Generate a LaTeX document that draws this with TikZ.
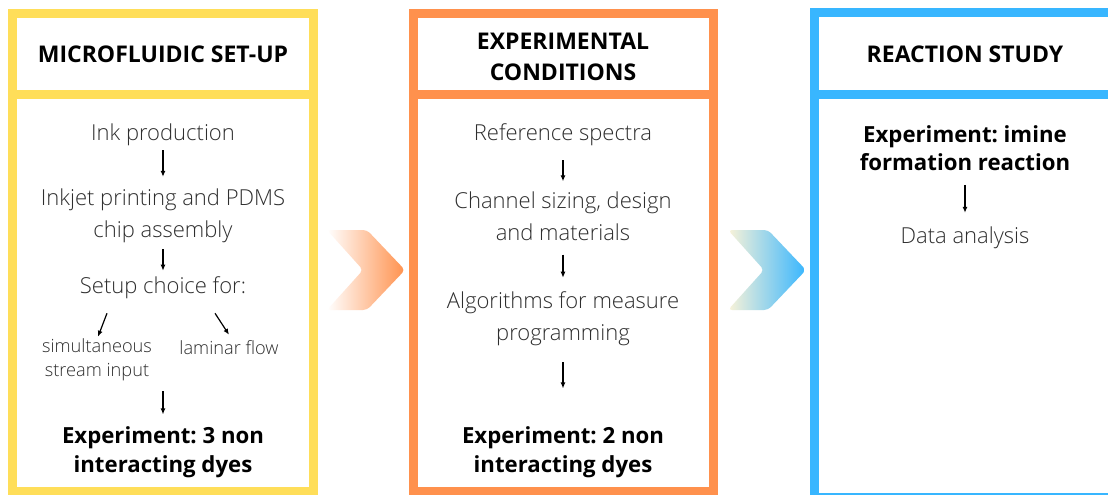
\documentclass[tikz,border=0pt]{standalone}
\usepackage{fontspec}
\setmainfont{Open Sans}
\newfontfamily\lightfont{Open Sans Light}
\usetikzlibrary{arrows.meta,calc}
\definecolor{cyellow}{HTML}{FFDE59}
\definecolor{corange}{HTML}{FF914D}
\definecolor{cblue}{HTML}{38B6FF}
\definecolor{ink}{HTML}{2E2E2E}
\definecolor{cream}{HTML}{FAF3D8}
\frenchspacing
\begin{document}
\begin{tikzpicture}[x=1pt,y=-1pt,
  frame/.style={line width=9pt},
  title/.style={font=\bfseries\fontsize{23}{31}\selectfont, align=center, text=black},
  body/.style={font=\lightfont\fontsize{22}{32}\selectfont, align=center, text=ink, inner sep=0pt},
  small/.style={font=\lightfont\fontsize{18.2}{24}\selectfont, align=center, text=ink, inner sep=0pt},
  strong/.style={font=\bfseries\fontsize{22.2}{28.5}\selectfont, align=center, text=black, inner sep=0pt},
  arr/.style={-{Latex[length=6pt,width=5pt]}, line width=1.2pt, black},
  chev/.style={rounded corners=4pt}]
\useasboundingbox (0,0) rectangle (1108,495);
\fill[white] (0,0) rectangle (1108,495);

% panel frames; the third one runs past the right edge
\draw[frame,cyellow] (12.5,13.5) rectangle (313.5,491.5);
\draw[frame,cyellow] (8,94.5) -- (318,94.5);
\draw[frame,corange] (413.5,13.5) rectangle (713.5,491.5);
\draw[frame,corange] (409,94.5) -- (718,94.5);
\fill[cblue] (810,8.5) rectangle (1108,17.5);
\fill[cblue] (810,90) rectangle (1108,99);
\fill[cblue] (810,492.5) rectangle (1108,495);
\fill[cblue] (810,8.5) rectangle (819,495);
% white interior of the third panel up to the edge
\fill[white] (819,17.5) rectangle (1108,90);
\fill[white] (819,99) rectangle (1108,492.5);

% chevrons between panels
\shade[chev, left color=white, right color=corange]
  (327,230) -- (367,230) -- (405,270) -- (367,310) -- (327,310) -- (363,270) -- cycle;
\shade[chev, left color=cream, right color=cblue]
  (728,230) -- (768,230) -- (806,270) -- (768,310) -- (728,310) -- (764,270) -- cycle;

% headers
\node[title] (t1) at (163,54) {MICROFLUIDIC SET-UP};
\node[title] (t2) at (563,57) {EXPERIMENTAL\\CONDITIONS};
\node[title] (t3) at (965,54) {REACTION STUDY};

% first column
\node[body] (ink) at (163,135) {Ink production};
\node[body] (jet) at (163,216) {Inkjet printing and PDMS\\chip assembly};
\node[body] (setup) at (163,288) {Setup choice for:};
\node[small] (simul) at (97,360) {simultaneous\\stream input};
\node[small] (lam) at (229,348) {laminar flow};
\node[strong] (exp1) at (163,452) {Experiment: 3 non\\interacting dyes};
\draw[arr, shorten <=4pt, shorten >=12pt] (ink.south) -- (jet.north);
\draw[arr] ($(setup.south)+(-56,14)$) -- ($(simul.north)+(1,-2)$);
\draw[arr] ($(setup.south)+(52,14)$) -- ($(lam.north)+(0,-6)$);

% second column
\node[body] (ref) at (563,135) {Reference spectra};
\node[body] (chan) at (563,216) {Channel sizing, design\\and materials};
\node[body] (algo) at (563,319) {Algorithms for measure\\programming};
\node[strong] (exp2) at (563,452) {Experiment: 2 non\\interacting dyes};

% third column
\node[strong] (exp3) at (965,148) {Experiment: imine\\formation reaction};
\node[body] (data) at (965,238) {Data analysis};

% vertical connectors
\draw[arr, shorten <=6pt, shorten >=6pt] (jet.south) -- (setup.north);
\draw[arr, shorten <=10pt, shorten >=12pt] (exp1.north |- simul.south) -- (exp1.north);
\draw[arr, shorten <=14pt, shorten >=10pt] (ref.south) -- (chan.north);
\draw[arr, shorten <=14pt, shorten >=14pt] (chan.south) -- (algo.north);
\draw[arr, shorten <=16pt, shorten >=38pt] (algo.south) -- (exp2.north);
\draw[arr, shorten <=14pt, shorten >=14pt] (exp3.south) -- (data.north);
\end{tikzpicture}
\end{document}
